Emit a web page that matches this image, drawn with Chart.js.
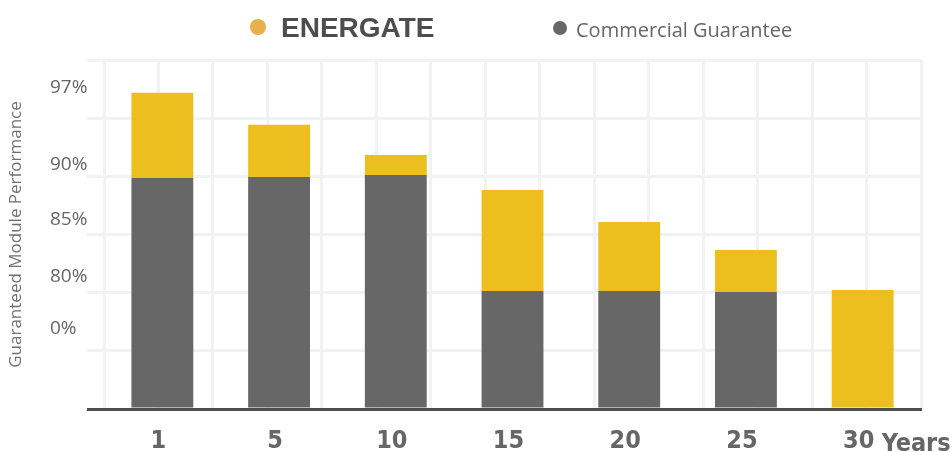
<!DOCTYPE html>
<html>
<head>
<meta charset="utf-8">
<title>Guaranteed Module Performance</title>
<script src="https://cdn.jsdelivr.net/npm/chart.js@4.4.1/dist/chart.umd.min.js"></script>
<style>
  html, body { margin: 0; padding: 0; background: #fff; }
  .chartBox { width: 952px; height: 452px; position: relative; }
</style>
</head>
<body>
<div class="chartBox">
  <canvas id="myChart"></canvas>
</div>
<script>
// years on the x axis
const years = ["1", "5", "10", "15", "20", "25", "30"];

// stacked segments, in axis units (one grid row = 20)
const commercialValues = [79.4, 79.8, 80.5, 40.6, 40.6, 40.2, 0];
const energateValues = [29.3, 17.9, 6.8, 34.7, 23.7, 14.5, 40.9];

// labels printed on the left axis and where they sit on it
const tickLabels = ["97%", "90%", "85%", "80%", "0%"];
const tickValues = [110.4, 84.2, 65, 45.4, 27.5];

const gridGray = "#f1f2f2";
const textGray = "#666666";
const yearFont = "'DejaVu Sans Condensed', 'DejaVu Sans', sans-serif";

// legend + the "Years" word are drawn by hand
const extrasPlugin = {
    id: "extras",
    afterDraw(chart) {
        const ctx = chart.ctx;
        ctx.save();

        ctx.fillStyle = "#e8b04b";
        ctx.beginPath();
        ctx.arc(258, 27, 8, 0, Math.PI * 2);
        ctx.fill();
        ctx.fillStyle = "#4d4d4d";
        ctx.font = "bold 28px 'Liberation Sans', Arial, sans-serif";
        ctx.textBaseline = "alphabetic";
        ctx.textAlign = "left";
        ctx.fillText(chart.data.datasets[1].label, 281, 37);

        ctx.fillStyle = "#666766";
        ctx.beginPath();
        ctx.arc(560, 28, 7, 0, Math.PI * 2);
        ctx.fill();
        ctx.fillStyle = textGray;
        ctx.font = "20px 'Open Sans', sans-serif";
        ctx.fillText(chart.data.datasets[0].label, 576, 37);

        const xScale = chart.scales.x;
        const lastX = xScale.getPixelForValue(years.length - 1);
        ctx.font = "bold 25px " + yearFont;
        ctx.fillStyle = textGray;
        ctx.fillText("Years", lastX + 19, 451);
        ctx.restore();
    }
};

const ctx = document.getElementById("myChart").getContext("2d");

new Chart(ctx, {
    type: "bar",
    data: {
        labels: years,
        datasets: [
            {
                label: "Commercial Guarantee",
                data: commercialValues,
                backgroundColor: "#666766",
                barPercentage: 0.53,
                categoryPercentage: 1.0,
            },
            {
                label: "ENERGATE",
                data: energateValues,
                backgroundColor: "#ecbf1e",
                barPercentage: 0.53,
                categoryPercentage: 1.0,
            },
        ],
    },
    options: {
        responsive: true,
        maintainAspectRatio: false,
        animation: false,
        layout: {
            padding: { top: 60, right: 31, left: 0, bottom: 0 },
        },
        plugins: {
            legend: { display: false },
            tooltip: { enabled: false },
        },
        scales: {
            x: {
                stacked: true,
                grid: { display: false, drawTicks: false },
                border: { display: true, color: "#4d4d4d", width: 3 },
                ticks: {
                    color: textGray,
                    padding: 17,
                    labelOffset: -4,
                    font: { family: yearFont, size: 25, weight: "bold" },
                },
                afterFit: (scale) => { scale.height = 43; },
            },
            xg: {
                type: "linear",
                position: "bottom",
                min: 0,
                max: 14,
                ticks: { display: false, stepSize: 1 },
                grid: { color: gridGray, lineWidth: 3, drawTicks: false },
                border: { display: false },
                afterFit: (scale) => { scale.height = 0; },
            },
            y: {
                stacked: true,
                min: 0,
                max: 120,
                weight: 0,
                ticks: { display: false, stepSize: 20 },
                grid: {
                    tickLength: 17,
                    color: (c) => (c.tick && c.tick.value === 0 ? "#4d4d4d" : gridGray),
                    lineWidth: 3,
                },
                border: { display: false },
                afterFit: (scale) => { scale.width = 17; },
            },
            yl: {
                type: "linear",
                position: "left",
                min: 0,
                max: 120,
                weight: 1,
                grid: { display: false, drawTicks: false },
                border: { display: false },
                afterBuildTicks: (scale) => {
                    scale.ticks = tickValues.map((v) => ({ value: v }));
                },
                ticks: {
                    crossAlign: "far",
                    color: textGray,
                    font: { family: "'Open Sans', sans-serif", size: 19 },
                    callback: (value, index) => tickLabels[index],
                },
                afterFit: (scale) => { scale.width = 37; },
            },
            yt: {
                type: "linear",
                position: "left",
                min: 0,
                max: 120,
                weight: 2,
                ticks: { display: false },
                grid: { display: false, drawTicks: false },
                border: { display: false },
                title: {
                    display: true,
                    text: "Guaranteed Module Performance",
                    color: "#707070",
                    padding: { top: 6, bottom: 0 },
                    font: { family: "'Open Sans', sans-serif", size: 17 },
                },
                afterFit: (scale) => { scale.width = 50; },
            },
        },
    },
    plugins: [extrasPlugin],
});
</script>
</body>
</html>
